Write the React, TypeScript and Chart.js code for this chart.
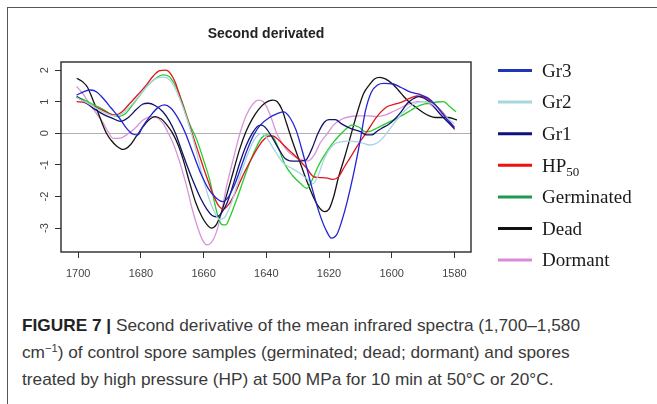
import React, { useEffect, useLayoutEffect, useRef } from "react";
import { Chart, registerables } from "chart.js";

Chart.register(...registerables);

type Pt = [number, number];

const chartTitle = "Second derivated";
const xTicks = [1700, 1680, 1660, 1640, 1620, 1600, 1580];
const yTicks = [2, 1, 0, -1, -2, -3];
const xMin = 1574.7;
const xMax = 1705.5;
const yMin = -3.756;
const yMax = 2.256;

const gr3: Pt[] = [
  [1700.5, 1.21], [1698, 1.33], [1696, 1.37], [1694, 1.3], [1692, 1.1], [1689.5, 0.8], [1687, 0.5],
  [1684.5, 0.15], [1682.5, -0.03], [1681, -0.05], [1679.5, 0.2], [1677, 0.55], [1674.5, 0.82],
  [1672.5, 0.9], [1670.5, 0.8], [1668, 0.45], [1666, 0.05], [1663.5, -0.6], [1661, -1.25],
  [1658.5, -1.75], [1656, -2.05], [1654, -2.16], [1652, -2.0], [1650, -1.6], [1648, -1.05],
  [1646, -0.5], [1644, -0.05], [1642, 0.25], [1639, 0.5], [1636.5, 0.62], [1634.5, 0.68],
  [1632.5, 0.5], [1630.5, 0.1], [1628, -0.75], [1625.5, -1.7], [1623, -2.55], [1621, -3.05],
  [1619.2, -3.32], [1617.5, -3.2], [1616, -2.8], [1614.3, -2.2], [1612.2, -1.3], [1610, -0.2],
  [1608.4, 0.7], [1606.5, 1.3], [1604.5, 1.53], [1602.5, 1.58], [1599.5, 1.56], [1597, 1.45],
  [1594, 1.3], [1591, 1.23], [1588.5, 1.12], [1586, 0.9], [1584, 0.65], [1582, 0.4], [1580, 0.2],
];

const gr2: Pt[] = [
  [1700.5, 1.13], [1697, 0.95], [1694, 0.78], [1691, 0.62], [1688.5, 0.55], [1686, 0.62], [1683, 0.9],
  [1680, 1.25], [1677, 1.6], [1674.5, 1.76], [1672.5, 1.78], [1670.5, 1.65], [1668.5, 1.3],
  [1666.5, 0.8], [1664.5, 0.2], [1662.5, -0.5], [1660.5, -1.3], [1658.5, -2.0], [1656.5, -2.5],
  [1655, -2.72], [1653.5, -2.68], [1651.5, -2.3], [1649.5, -1.7], [1647.5, -1.1], [1645.5, -0.55],
  [1643.5, -0.15], [1641.5, 0.0], [1639.5, -0.2], [1637, -0.6], [1634.5, -0.95], [1632, -1.1],
  [1629.5, -1.25], [1627, -1.45], [1625.2, -1.6], [1623.5, -1.35], [1621.5, -0.8], [1619, -0.4],
  [1616.5, -0.27], [1613, -0.25], [1609.5, -0.3], [1607, -0.37], [1604.5, -0.3], [1602, -0.05],
  [1599, 0.35], [1596, 0.7], [1593, 0.92], [1590, 1.0], [1587.5, 0.95], [1585, 0.75],
  [1582.5, 0.5], [1580, 0.3],
];

const gr1: Pt[] = [
  [1700.5, 1.16], [1698, 1.0], [1695, 0.78], [1692, 0.6], [1689, 0.47], [1686.5, 0.38], [1684, 0.5],
  [1681.5, 0.75], [1679.5, 0.92], [1677.7, 0.95], [1675.5, 0.88], [1673, 0.68], [1671, 0.4],
  [1669, 0.0], [1667, -0.55], [1665, -1.1], [1663, -1.6], [1661, -2.05], [1659, -2.4],
  [1657.3, -2.6], [1656, -2.64], [1654.5, -2.55], [1652.5, -2.2], [1650.5, -1.6], [1648.5, -0.95],
  [1646.5, -0.4], [1644.5, 0.0], [1642.5, 0.24], [1641.5, 0.26], [1640, 0.15], [1638, -0.15],
  [1636, -0.5], [1634, -0.8], [1632.5, -0.87], [1630, -0.88], [1627.6, -0.86], [1625.5, -0.5],
  [1623.5, 0.0], [1621.5, 0.35], [1620, 0.43], [1618, 0.43], [1616, 0.3], [1613, 0.15],
  [1610, 0.05], [1608, -0.05], [1606.3, -0.05], [1604.5, 0.08], [1603, 0.17], [1601, 0.28],
  [1599.3, 0.42], [1597, 0.68], [1595, 0.95], [1593, 1.1], [1591.5, 1.16], [1589.5, 1.1],
  [1587, 0.9], [1584.5, 0.6], [1582, 0.35], [1580, 0.15],
];

const hp50: Pt[] = [
  [1700.5, 1.0], [1698, 0.97], [1695, 0.85], [1692, 0.72], [1689.5, 0.6], [1688, 0.58], [1686, 0.68],
  [1683.5, 0.95], [1681, 1.22], [1678.5, 1.5], [1676, 1.82], [1674, 1.98], [1672, 2.0],
  [1670.5, 1.88], [1669, 1.6], [1667.5, 1.15], [1665.5, 0.55], [1663.5, -0.05], [1661.5, -0.65],
  [1659.5, -1.25], [1657.5, -1.8], [1655.5, -2.25], [1653.7, -2.4], [1652, -2.25], [1650, -1.9],
  [1648, -1.45], [1645.5, -0.95], [1643, -0.5], [1641, -0.22], [1639.5, -0.1], [1638, -0.08],
  [1636, -0.22], [1634, -0.42], [1631.5, -0.65], [1629, -0.9], [1627, -1.12], [1625, -1.37],
  [1623, -1.4], [1620.5, -1.42], [1618.6, -1.46], [1617, -1.38], [1615, -1.05], [1612.5, -0.65],
  [1610, -0.25], [1607.9, 0.05], [1604.7, 0.53], [1601.5, 0.84], [1599, 0.92], [1597.3, 0.97],
  [1594.1, 1.11], [1592, 1.18], [1590, 1.16], [1588.8, 1.1], [1586.5, 0.92], [1584.5, 0.74],
  [1582, 0.45], [1580, 0.15],
];

const germinated: Pt[] = [
  [1700.5, 1.16], [1698, 1.05], [1695, 0.9], [1692, 0.75], [1689.5, 0.6], [1687.2, 0.53], [1685, 0.62],
  [1682.5, 0.92], [1680, 1.25], [1677.5, 1.55], [1675, 1.76], [1673, 1.85], [1671, 1.8],
  [1669.5, 1.6], [1668, 1.3], [1666.5, 0.9], [1664.5, 0.3], [1662.2, -0.2], [1660, -0.85],
  [1658, -1.5], [1656.5, -2.2], [1655.5, -2.6], [1654.3, -2.88], [1653, -2.9], [1651.6, -2.65],
  [1649.5, -2.1], [1647.3, -1.48], [1645, -0.85], [1643, -0.4], [1641.5, -0.15], [1640, -0.05],
  [1638, -0.1], [1636, -0.5], [1634, -1.0], [1631.5, -1.35], [1629, -1.6], [1627.1, -1.74],
  [1625.5, -1.5], [1623.5, -1.05], [1621.5, -0.7], [1619.1, -0.35], [1617, -0.1], [1615, 0.1],
  [1612.7, 0.26], [1610.5, 0.2], [1608.4, 0.05], [1606.5, 0.08], [1604.8, 0.16], [1602, 0.3],
  [1599.5, 0.42], [1597.3, 0.53], [1594, 0.72], [1592, 0.84], [1589.5, 0.93], [1587.8, 0.95],
  [1585.5, 0.99], [1583.5, 1.0], [1581.5, 0.85], [1579.5, 0.68],
];

const dead: Pt[] = [
  [1700.5, 1.74], [1698.5, 1.62], [1697, 1.45], [1695.5, 1.1], [1694, 0.74], [1692.5, 0.35],
  [1691, 0.0], [1689.5, -0.22], [1687.8, -0.4], [1685.6, -0.51], [1683.5, -0.38], [1681.5, -0.1],
  [1679.3, 0.21], [1677.5, 0.42], [1675.5, 0.53], [1673.5, 0.45], [1672, 0.3], [1670, 0.02],
  [1668, -0.4], [1666.5, -0.84], [1664.5, -1.55], [1662.5, -2.2], [1660.5, -2.65], [1659, -2.88],
  [1657.5, -3.0], [1656, -2.9], [1654.5, -2.55], [1652.5, -1.9], [1650.5, -1.2], [1648.5, -0.5],
  [1646.5, 0.05], [1644.5, 0.45], [1642.5, 0.75], [1640.5, 0.95], [1638, 1.05], [1636.5, 1.0],
  [1635, 0.75], [1633.5, 0.3], [1631.5, -0.3], [1629.5, -0.85], [1627.5, -1.4], [1625.5, -1.9],
  [1623.5, -2.3], [1621.5, -2.48], [1620, -2.4], [1618.5, -2.0], [1617, -1.4], [1615, -0.75],
  [1613, -0.05], [1611, 0.65], [1609, 1.25], [1607, 1.55], [1605.5, 1.72], [1603.8, 1.77],
  [1602, 1.72], [1600, 1.58], [1598, 1.38], [1596, 1.15], [1594, 0.95], [1592, 0.8], [1590, 0.66],
  [1588, 0.55], [1586, 0.5], [1584, 0.5], [1582, 0.5], [1580, 0.45], [1579.2, 0.42],
];

const dormant: Pt[] = [
  [1700.5, 1.48], [1698.5, 1.25], [1696.5, 0.95], [1694, 0.6], [1692, 0.32], [1690.5, 0.05],
  [1688.8, -0.16], [1686.5, -0.15], [1684.6, -0.05], [1682, 0.15], [1679.3, 0.42], [1676.8, 0.53],
  [1675, 0.5], [1673, 0.32], [1671.5, 0.05], [1669.7, -0.32], [1667.5, -0.95], [1665.4, -1.69],
  [1663.5, -2.45], [1662, -2.95], [1660.5, -3.35], [1659, -3.53], [1657.5, -3.45], [1656, -3.15],
  [1654.5, -2.6], [1652.7, -1.69], [1650.5, -0.8], [1648.4, 0.0], [1646.5, 0.55], [1644.1, 0.95],
  [1642.5, 1.05], [1641, 1.0], [1639.9, 0.84], [1638.3, 0.45], [1636.7, 0.0], [1635, -0.3],
  [1633.5, -0.53], [1631.5, -0.7], [1629.3, -0.82], [1626.8, -0.88], [1624.5, -0.65],
  [1622.9, -0.32], [1620.5, 0.0], [1618.6, 0.26], [1615.4, 0.47], [1612.5, 0.54], [1610.1, 0.55],
  [1607.5, 0.55], [1604.8, 0.53], [1602, 0.58], [1599.5, 0.69], [1596.5, 0.84], [1594.1, 0.95],
  [1592, 1.0], [1589.5, 1.0], [1587.5, 0.9], [1585.6, 0.74], [1583, 0.5], [1581, 0.25],
  [1579.8, 0.1],
];

const seriesLabels = ["Gr3", "Gr2", "Gr1", "HP50", "Germinated", "Dead", "Dormant"];
const seriesData = [gr3, gr2, gr1, hp50, germinated, dead, dormant];
const lineColors = ["#2424d4", "#a6d4e2", "#12126a", "#e3141c", "#26cc2e", "#141414", "#d994d9"];
const legendColors = ["#1f35b8", "#a8d6e0", "#10107e", "#ee1111", "#1c9a4e", "#111111", "#da8ada"];

const SANS = "'Liberation Sans', Arial, sans-serif";
const SERIF = "'Liberation Serif', 'Times New Roman', serif";

const decorPlugin = {
  id: "decor",
  beforeDatasetsDraw(chart: any) {
    const { ctx, chartArea } = chart;
    const y = chart.scales.y;
    const y0 = Math.round(y.getPixelForValue(0)) + 0.5;
    ctx.save();
    ctx.strokeStyle = "#b0b0b0";
    ctx.lineWidth = 1;
    ctx.beginPath();
    ctx.moveTo(chartArea.left, y0);
    ctx.lineTo(chartArea.right, y0);
    ctx.stroke();
    ctx.restore();
  },
  afterDraw(chart: any) {
    const { ctx, chartArea } = chart;
    const { left, right, top, bottom } = chartArea;
    const y = chart.scales.y;
    ctx.save();
    ctx.strokeStyle = "#2a2a2a";
    ctx.lineWidth = 1.4;
    ctx.strokeRect(left, top, right - left, bottom - top);
    ctx.fillStyle = "#222";
    ctx.font = `bold 14px ${SANS}`;
    ctx.textAlign = "center";
    ctx.textBaseline = "middle";
    ctx.fillText(chartTitle, (left + right) / 2, 34);
    ctx.font = `11px ${SANS}`;
    ctx.fillStyle = "#444";
    yTicks.forEach((v) => {
      const py = y.getPixelForValue(v);
      ctx.save();
      ctx.translate(left - 16, py);
      ctx.rotate(-Math.PI / 2);
      ctx.textAlign = "center";
      ctx.textBaseline = "middle";
      ctx.fillText(String(v), 0, 0);
      ctx.restore();
    });
    const lx0 = 498;
    const lx1 = 532;
    const tx = 542;
    const rowTop = 70.5;
    const rowStep = 31.6;
    seriesLabels.forEach((label, i) => {
      const ry = rowTop + i * rowStep;
      ctx.strokeStyle = legendColors[i];
      ctx.lineWidth = 3;
      ctx.lineCap = "butt";
      ctx.beginPath();
      ctx.moveTo(lx0, ry);
      ctx.lineTo(lx1, ry);
      ctx.stroke();
      ctx.fillStyle = "#1a1a1a";
      ctx.textAlign = "left";
      ctx.textBaseline = "alphabetic";
      ctx.font = `19px ${SERIF}`;
      const by = ry + 6.3;
      if (label === "HP50") {
        ctx.fillText("HP", tx, by);
        const w = ctx.measureText("HP").width;
        ctx.font = `13px ${SERIF}`;
        ctx.fillText("50", tx + w, by + 4);
      } else {
        ctx.fillText(label, tx, by);
      }
    });
    ctx.restore();
  },
};

function ChartCanvas() {
  const ref = useRef<HTMLCanvasElement | null>(null);
  useEffect(() => {
    if (!ref.current) return;
    const chart = new Chart(ref.current, {
      type: "line",
      data: {
        datasets: seriesData.map((pts, i) => ({
          label: seriesLabels[i],
          data: pts.map(([x, y]) => ({ x, y })),
          borderColor: lineColors[i],
          backgroundColor: lineColors[i],
          borderWidth: 1.3,
          pointRadius: 0,
          fill: false,
          cubicInterpolationMode: "monotone" as const,
        })),
      },
      options: {
        animation: false,
        responsive: false,
        devicePixelRatio: 1,
        events: [],
        layout: { padding: { left: 41, right: 186, top: 62, bottom: 8 } },
        plugins: { legend: { display: false }, tooltip: { enabled: false }, title: { display: false } },
        scales: {
          x: {
            type: "linear",
            reverse: true,
            min: xMin,
            max: xMax,
            afterBuildTicks: (scale: any) => {
              scale.ticks = xTicks.map((v) => ({ value: v }));
            },
            afterFit: (scale: any) => {
              scale.height = 40;
            },
            border: { display: false },
            grid: { drawOnChartArea: false, drawTicks: true, tickLength: 6, color: "#333", lineWidth: 1 },
            ticks: {
              color: "#444",
              font: { family: SANS, size: 11 },
              padding: 9,
              maxRotation: 0,
              minRotation: 0,
              autoSkip: false,
              callback: (v: any) => String(v),
            },
          },
          y: {
            type: "linear",
            min: yMin,
            max: yMax,
            afterBuildTicks: (scale: any) => {
              scale.ticks = yTicks.map((v) => ({ value: v }));
            },
            afterFit: (scale: any) => {
              scale.width = 20;
            },
            border: { display: false },
            grid: { drawOnChartArea: false, drawTicks: true, tickLength: 6, color: "#333", lineWidth: 1 },
            ticks: { display: false },
          },
        },
      },
      plugins: [decorPlugin],
    } as any);
    return () => chart.destroy();
  }, []);
  return <canvas ref={ref} width={657} height={300} style={{ display: "block", width: 657, height: 300 }} />;
}

const captionFirstLineWidth = 558;

function Caption() {
  const refs = [useRef<HTMLDivElement | null>(null), useRef<HTMLDivElement | null>(null), useRef<HTMLDivElement | null>(null)];
  useLayoutEffect(() => {
    const first = refs[0].current;
    if (!first) return;
    refs.forEach((r) => r.current && (r.current.style.transform = "none"));
    const w = first.getBoundingClientRect().width;
    if (w <= 0) return;
    const s = captionFirstLineWidth / w;
    refs.forEach((r) => {
      if (r.current) r.current.style.transform = `scaleX(${s})`;
    });
  }, []);
  const lineStyle: React.CSSProperties = {
    display: "inline-block",
    whiteSpace: "nowrap",
    transformOrigin: "0 50%",
  };
  return (
    <div
      style={{
        position: "absolute",
        left: 22,
        top: 312,
        fontFamily: SANS,
        fontSize: 17,
        lineHeight: "27px",
        color: "#3a3a3a",
      }}
    >
      <div style={{ height: 27 }}>
        <div ref={refs[0]} style={lineStyle}>
          <span style={{ fontWeight: "bold", color: "#222" }}>FIGURE 7 |</span> Second derivative of the mean infrared spectra (1,700–1,580
        </div>
      </div>
      <div style={{ height: 27 }}>
        <div ref={refs[1]} style={lineStyle}>
          cm<sup style={{ fontSize: 11, lineHeight: 0, verticalAlign: "6px" }}>−1</sup>) of control spore samples (germinated; dead; dormant) and spores
        </div>
      </div>
      <div style={{ height: 27 }}>
        <div ref={refs[2]} style={lineStyle}>
          treated by high pressure (HP) at 500 MPa for 10 min at 50°C or 20°C.
        </div>
      </div>
    </div>
  );
}

export default function App() {
  return (
    <div
      style={{
        position: "absolute",
        left: 0,
        top: 0,
        width: 657,
        height: 404,
        background: "#fff",
        overflow: "hidden",
      }}
    >
      <div
        style={{
          position: "absolute",
          left: 7,
          top: 7,
          width: 700,
          height: 450,
          borderLeft: "1px solid #555",
          borderTop: "1px solid #555",
        }}
      />
      <div style={{ position: "absolute", left: 0, top: 0 }}>
        <ChartCanvas />
      </div>
      <Caption />
    </div>
  );
}
